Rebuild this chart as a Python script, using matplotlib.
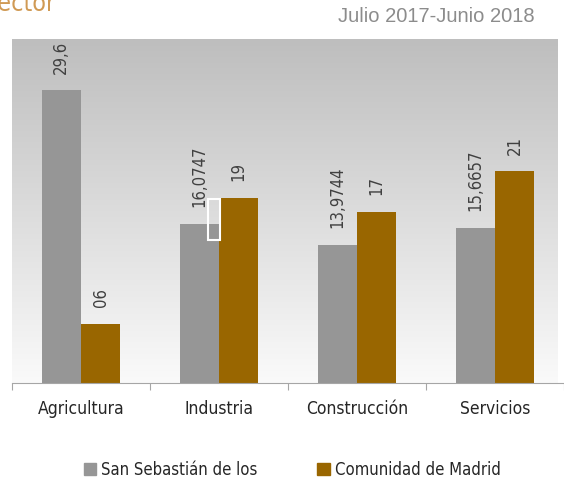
import numpy as np
import matplotlib
matplotlib.use("Agg")
import matplotlib.pyplot as plt
from matplotlib.patches import Patch, Rectangle

sectores = ["Agricultura", "Industria", "Construcción", "Servicios"]
san_sebastian = [29.6, 16.0747, 13.9744, 15.6657]
madrid = [6.0, 18.7, 17.3, 21.4]
etiquetas_ss = ["29,6", "16,0747", "13,9744", "15,6657"]
etiquetas_madrid = ["06", "19", "17", "21"]
nombres = ["San Sebastián de los", "Comunidad de Madrid"]

GRIS = "#969696"
MARRON = "#996600"
FUENTE = dict(family="DejaVu Sans", stretch="condensed", weight="light")

fig = plt.figure(figsize=(5.64, 4.79), dpi=100)
ax = fig.add_axes([12 / 564, 96 / 479, 552 / 564, 344 / 479])

x = np.arange(len(sectores))
w = 0.2857

# fondo degradado gris -> blanco
grad = np.linspace(0, 1, 256).reshape(-1, 1)
ax.imshow(grad, cmap=matplotlib.colors.LinearSegmentedColormap.from_list("bg", ["#FAFAFA", "#BEBEBE"]),
          aspect="auto", extent=[-0.5, 3.45, 0, 34.8], origin="lower", zorder=0)

b1 = ax.bar(x - w / 2, san_sebastian, w, color=GRIS, zorder=2)
b2 = ax.bar(x + w / 2, madrid, w, color=MARRON, zorder=2)

for bars, labels in ((b1, etiquetas_ss), (b2, etiquetas_madrid)):
    for rect, lab in zip(bars, labels):
        ax.annotate(lab, (rect.get_x() + rect.get_width() / 2, rect.get_height()),
                    xytext=(0, 12), textcoords="offset points", rotation=90,
                    ha="center", va="bottom", fontsize=12, color="#404040",
                    annotation_clip=False, zorder=3, **FUENTE)

# recuadro blanco que aparece en el original
ax.add_patch(Rectangle((1 - 0.078, 14.5), 0.082, 4.1, fill=False,
                       edgecolor="white", linewidth=1.5, zorder=4))

ax.set_xlim(-0.5, 3.45)
ax.set_ylim(0, 34.8)
ax.set_yticks([])
for s in ("top", "right", "left"):
    ax.spines[s].set_visible(False)
ax.spines["bottom"].set_color("#A6A6A6")
ax.set_xticks(np.arange(-0.5, 4, 1))
ax.set_xticklabels([])
ax.tick_params(axis="x", direction="out", length=5, color="#A6A6A6")
ax.set_xticks(x, minor=True)
ax.set_xticklabels(sectores, minor=True, fontsize=12.5, color="#262626", **FUENTE)
ax.tick_params(axis="x", which="minor", length=0, pad=12)

fig.text(535 / 564, 1 - 17 / 479, "Julio 2017-Junio 2018", ha="right", va="center",
         fontsize=14.5, color="#8C8C8C", family="Liberation Sans")
fig.text(56 / 564, 1 - 11 / 479, "Sector", ha="right", va="baseline",
         fontsize=18, color="#D09A55", **FUENTE)

handles = [Patch(color=GRIS), Patch(color=MARRON)]
fig.legend(handles, nombres, loc="center", bbox_to_anchor=(0.518, 1 - 470 / 479), ncol=2,
           frameon=False, handlelength=0.75, handleheight=0.75, handletextpad=0.3,
           columnspacing=3.6, prop=dict(size=12, **FUENTE), labelcolor="#262626")

fig.savefig("out.png", dpi=100)
